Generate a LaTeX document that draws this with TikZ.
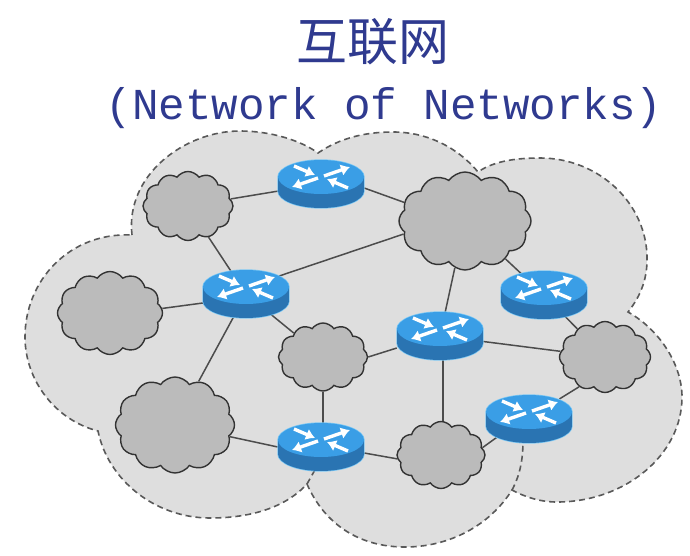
\documentclass[tikz,border=0pt]{standalone}
\usepackage{fontspec}
\usetikzlibrary{shapes.geometric, shapes.symbols, arrows.meta}
\newfontfamily\cjk{Noto Sans CJK SC}
\setmonofont{Liberation Mono}
\definecolor{titleblue}{HTML}{2F3A8F}
\definecolor{lobegray}{HTML}{DEDEDE}
\definecolor{cloudgray}{HTML}{BBBBBB}
\definecolor{routertop}{HTML}{3A9EE6}
\definecolor{routerbody}{HTML}{2A74B2}
\definecolor{routerrim}{HTML}{7CC8F4}
\tikzset{
    routerspot/.style={ellipse, minimum width=86pt, minimum height=48pt, inner sep=0pt},
    netcloud/.style={cloud, cloud puffs=12, cloud puff arc=110, draw=black!80, fill=cloudgray, line width=1.4pt, inner sep=0pt},
    link/.style={draw=black!70, line width=1.5pt},
    lobeline/.style={draw=black!65, line width=1.6pt, dash pattern=on 6pt off 4pt},
    routerarrow/.style={white, line width=3.4pt, -{Latex[length=9pt,width=12pt]}}
}
\begin{document}
\begin{tikzpicture}[x=1pt, y=-1pt]
    \useasboundingbox (0,0) rectangle (690,556);

    % title
    \node (Title) [text=titleblue, font=\cjk\fontsize{51}{55}\selectfont] at (373,42) {互联网};
    \node (Subtitle) [text=titleblue, font=\ttfamily\fontsize{44.2}{48}\selectfont] at (384,108) {(Network of Networks)};

    % dashed outline
    \path[fill=lobegray, lobeline]
        (132,235) .. controls (125,175) and (185,131) .. (240,131)
        .. controls (270,131) and (300,140) .. (318,153)
        .. controls (340,138) and (365,132) .. (393,132)
        .. controls (430,132) and (460,150) .. (478,172)
        .. controls (495,160) and (520,158) .. (540,158)
        .. controls (600,158) and (648,205) .. (647,260)
        .. controls (647,280) and (640,297) .. (628,312)
        .. controls (660,330) and (682,365) .. (682,397)
        .. controls (682,455) and (625,502) .. (557,502)
        .. controls (540,502) and (525,497) .. (512,490)
        .. controls (490,525) and (450,547) .. (405,547)
        .. controls (360,547) and (325,525) .. (307,484)
        .. controls (285,508) and (250,518) .. (210,518)
        .. controls (155,518) and (108,480) .. (98,431)
        .. controls (55,420) and (25,380) .. (25,337)
        .. controls (25,280) and (70,232) .. (132,235) -- cycle;
    \draw[lobeline] (512,490) .. controls (520,475) and (523,460) .. (523,440);
    \draw[lobeline] (307,484) -- (316,468);

    \node (CloudA) [netcloud, minimum width=90pt, minimum height=69pt] at (188,206) {};
    \node (CloudB) [netcloud, minimum width=132pt, minimum height=98pt] at (465,221) {};
    \node (CloudC) [netcloud, minimum width=105pt, minimum height=83pt] at (110,313) {};
    \node (CloudD) [netcloud, minimum width=89pt, minimum height=68pt] at (323,357) {};
    \node (CloudE) [netcloud, minimum width=119pt, minimum height=96pt] at (175,425) {};
    \node (CloudF) [netcloud, minimum width=88pt, minimum height=67pt] at (441,455) {};
    \node (CloudG) [netcloud, minimum width=91pt, minimum height=71pt] at (605,357) {};

    \node (RouterA) [routerspot] at (321,184) {};
    \node (RouterB) [routerspot] at (246,294) {};
    \node (RouterC) [routerspot] at (440,336) {};
    \node (RouterD) [routerspot] at (544,295) {};
    \node (RouterE) [routerspot] at (321,447) {};
    \node (RouterF) [routerspot] at (529,419) {};

    \draw[link] (RouterA) -- (CloudA);
    \draw[link] ([yshift=-4pt]RouterA.east) -- (CloudB.163);
    \draw[link] (RouterB) -- (CloudA);
    \draw[link] (RouterB.north east) -- (CloudB.192);
    \draw[link] ([yshift=-9pt]RouterB.west) -- (CloudC.5);
    \draw[link] (RouterB) -- (CloudD);
    \draw[link] (RouterB) -- (CloudE);
    \draw[link] (CloudD) -- ([xshift=2pt]RouterE.north);
    \draw[link] (CloudE.-12) -- (RouterE.west);
    \draw[link] (CloudB) -- (RouterC);
    \draw[link] (CloudB) -- (RouterD);
    \draw[link] (RouterD) -- (CloudG);
    \draw[link] ([yshift=-12pt]RouterC.west) -- (CloudD.0);
    \draw[link] (RouterC) -- (CloudG);
    \draw[link] ([xshift=3pt]RouterC.south) -- ([xshift=2pt]CloudF.north);
    \draw[link] ([yshift=-6pt]RouterE.east) -- (CloudF.185);
    \draw[link] (CloudF.10) -- (RouterF.south west);
    \draw[link] ([yshift=3pt]RouterF.north east) -- (CloudG.229);

    \foreach \routername in {RouterA, RouterB, RouterC, RouterD, RouterE, RouterF} {
        \begin{scope}[shift={(\routername.center)}]
            \draw[routerrim, line width=1.4pt] (-43,-7) -- (-43,7) (43,-7) -- (43,7) (0,7) ellipse [x radius=43, y radius=17] (0,-7) ellipse [x radius=43, y radius=17];
            \fill[routerbody] (-43,-7) rectangle (43,7);
            \fill[routerbody] (0,7) ellipse [x radius=43, y radius=17];
            \fill[routertop] (0,-7) ellipse [x radius=43, y radius=17];
            \draw[routerarrow] (-27,-18) -- (-6,-9);
            \draw[routerarrow] (27,4) -- (6,-5);
            \draw[routerarrow] (3,-8) -- (29,-17);
            \draw[routerarrow] (-3,-6) -- (-29,3);
        \end{scope}
    }
\end{tikzpicture}
\end{document}
